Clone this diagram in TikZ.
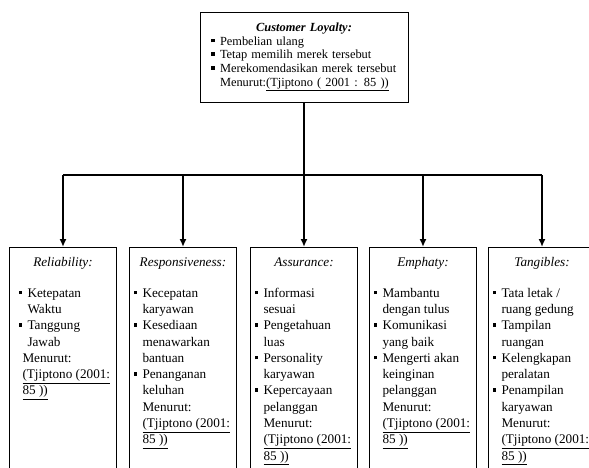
\documentclass[tikz,border=0pt]{standalone}
\usepackage{fontspec}
\setmainfont{Liberation Serif}
\usepackage{tikz}
\usetikzlibrary{arrows.meta}
\usetikzlibrary{positioning}
\tikzset{>=latex}
\tikzset{box/.style = {rectangle, draw = black, line width = 0.8pt, inner xsep = 4pt, inner ysep = 8pt, anchor = north}}
\tikzset{arr/.style = {-{Latex[length=8pt, width=7pt]}, line width = 1.6pt}}
\newcommand{\bul}{\makebox[9pt][l]{\rule[3pt]{3.5pt}{3.5pt}}}
\newcommand{\ind}{\hspace*{9pt}}
\newcommand{\src}[1]{\hspace*{#1}\underline{(Tjiptono (2001:}\\ \hspace*{#1}\underline{85 ))}}
\newcommand{\dimbox}[2]{\parbox[t][230pt][t]{99pt}{\fontsize{13.2}{16.3}\selectfont\strut\makebox[99pt][c]{\itshape #1}\\[14pt]#2}}

\begin{document}
\begin{tikzpicture}[x=1pt, y=-1pt]
\useasboundingbox (0,0) rectangle (589,468);
\clip (0,0) rectangle (589,468);
\node [rectangle, draw = black, line width = 0.8pt, minimum width = 208pt, minimum height = 90pt, text width = 198pt, inner xsep = 5pt, align = left, font = \fontsize{12.4}{13.7}\selectfont] (loyalty) at (304, 57) {\makebox[198pt][c]{\bfseries\itshape Customer Loyalty:}\\ \hspace*{6pt}\bul Pembelian ulang\\ \hspace*{6pt}\bul Tetap memilih merek tersebut\\ \hspace*{6pt}\bul Merekomendasikan merek tersebut\\ \hspace*{6pt}\ind Menurut:\underline{(Tjiptono ( 2001 : 85 ))}};
\node [box] (rel) at (63, 247) {\dimbox{Reliability:}{\hspace*{5pt}\bul Ketepatan\\ \hspace*{5pt}\ind Waktu\\ \hspace*{5pt}\bul Tanggung\\ \hspace*{5pt}\ind Jawab\\ \hspace*{9pt}Menurut:\\ \src{9pt}}};
\node [box] (resp) at (183, 247) {\dimbox{Responsiveness:}{\bul Kecepatan\\ \ind karyawan\\ \bul Kesediaan\\ \ind menawarkan\\ \ind bantuan\\ \bul Penanganan\\ \ind keluhan\\ \ind Menurut:\\ \src{9pt}}};
\node [box] (assur) at (304, 247) {\dimbox{Assurance:}{\bul Informasi\\ \ind sesuai\\ \bul Pengetahuan\\ \ind luas\\ \bul Personality\\ \ind karyawan\\ \bul Kepercayaan\\ \ind pelanggan\\ \ind Menurut:\\ \src{9pt}}};
\node [box] (emph) at (423, 247) {\dimbox{Emphaty:}{\bul Mambantu\\ \ind dengan tulus\\ \bul Komunikasi\\ \ind yang baik\\ \bul Mengerti akan\\ \ind keinginan\\ \ind pelanggan\\ \ind Menurut:\\ \src{9pt}}};
\node [box] (tang) at (542, 247) {\dimbox{Tangibles:}{\bul Tata letak /\\ \ind ruang gedung\\ \bul Tampilan\\ \ind ruangan\\ \bul Kelengkapan\\ \ind peralatan\\ \bul Penampilan\\ \ind karyawan\\ \ind Menurut:\\ \src{9pt}}};
\coordinate (bus) at (304, 175);
\draw [line width = 1.2pt] (rel.north |- bus) -- (tang.north |- bus);
\draw [arr] (loyalty.south) -- (assur.north);
\foreach \b in {rel, resp, emph, tang}
  \draw [arr] (\b.north |- bus) -- (\b.north);
\end{tikzpicture}
\end{document}
